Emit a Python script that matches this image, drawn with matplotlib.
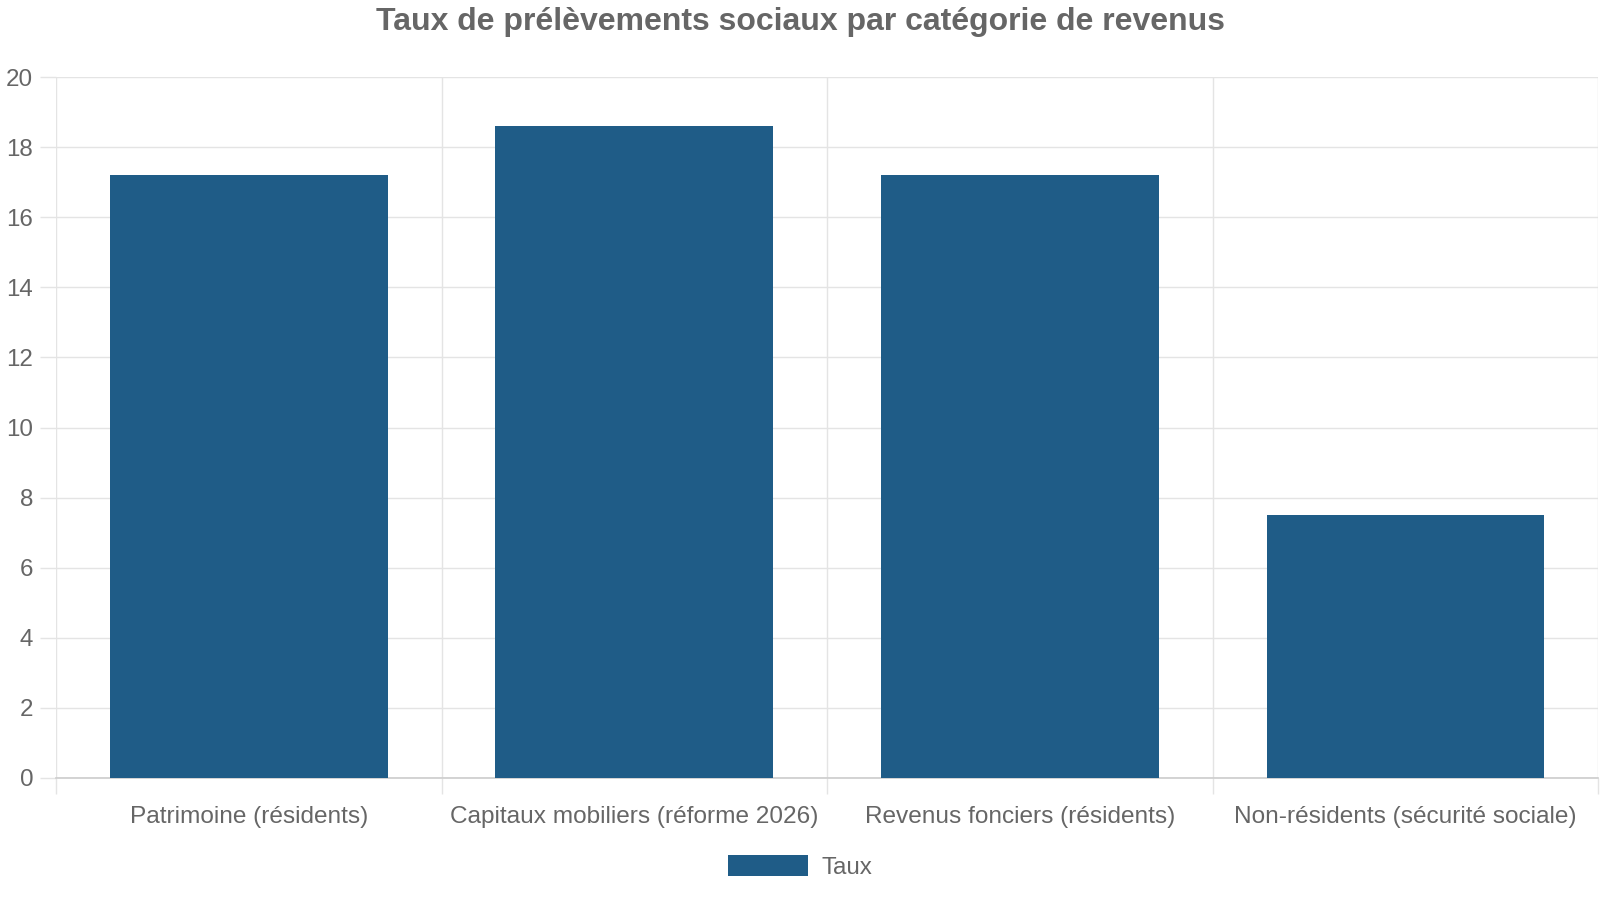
import matplotlib
matplotlib.use("Agg")
import matplotlib.pyplot as plt
from matplotlib.patches import Patch

# Données : taux de prélèvements sociaux (%)
categories = [
    "Patrimoine (résidents)",
    "Capitaux mobiliers (réforme 2026)",
    "Revenus fonciers (résidents)",
    "Non-résidents (sécurité sociale)",
]
taux = [17.2, 18.6, 17.2, 7.5]
y_ticks = [0, 2, 4, 6, 8, 10, 12, 14, 16, 18, 20]

bar_color = "#1f5c87"
text_color = "#666666"
grid_color = "#e4e4e4"

plt.rcParams["font.family"] = ["Liberation Sans", "DejaVu Sans"]

fig = plt.figure(figsize=(16, 9), dpi=100)
ax = fig.add_axes([0.035, 0.1356, 0.9638, 0.7788])

x = list(range(len(categories)))
ax.bar(x, taux, width=0.72, color=bar_color, zorder=3)

ax.set_xlim(-0.5, len(categories) - 0.5)
ax.set_ylim(0, 20)
ax.set_yticks(y_ticks)
ax.set_xticks(x)
ax.set_xticklabels(categories)
ax.set_xticks([i - 0.5 for i in range(len(categories) + 1)], minor=True)

ax.tick_params(axis="x", which="major", length=0, pad=20, labelsize=17.6, labelcolor=text_color)
ax.tick_params(axis="x", which="minor", length=11.5, width=1, color=grid_color)
ax.tick_params(axis="y", length=11.5, width=1, color=grid_color, pad=5, labelsize=17.4, labelcolor=text_color)

ax.grid(axis="y", which="major", color=grid_color, linewidth=1, zorder=0)
ax.grid(axis="x", which="minor", color=grid_color, linewidth=1, zorder=0)
ax.grid(axis="x", which="major", visible=False)

for side in ["top", "right", "left"]:
    ax.spines[side].set_visible(False)
ax.spines["bottom"].set_color("#cccccc")
ax.spines["bottom"].set_linewidth(1.2)

fig.text(0.5, 0.976, "Taux de prélèvements sociaux par catégorie de revenus",
         ha="center", va="center", fontsize=23, fontweight="bold", color=text_color)

handle = Patch(facecolor=bar_color, edgecolor="none", label="Taux")
fig.legend(handles=[handle], loc="center", bbox_to_anchor=(0.5, 0.037), frameon=False,
           fontsize=17.4, labelcolor=text_color, handlelength=3.3, handleheight=1.0,
           handletextpad=0.55)

fig.savefig("out.png", dpi=100)
